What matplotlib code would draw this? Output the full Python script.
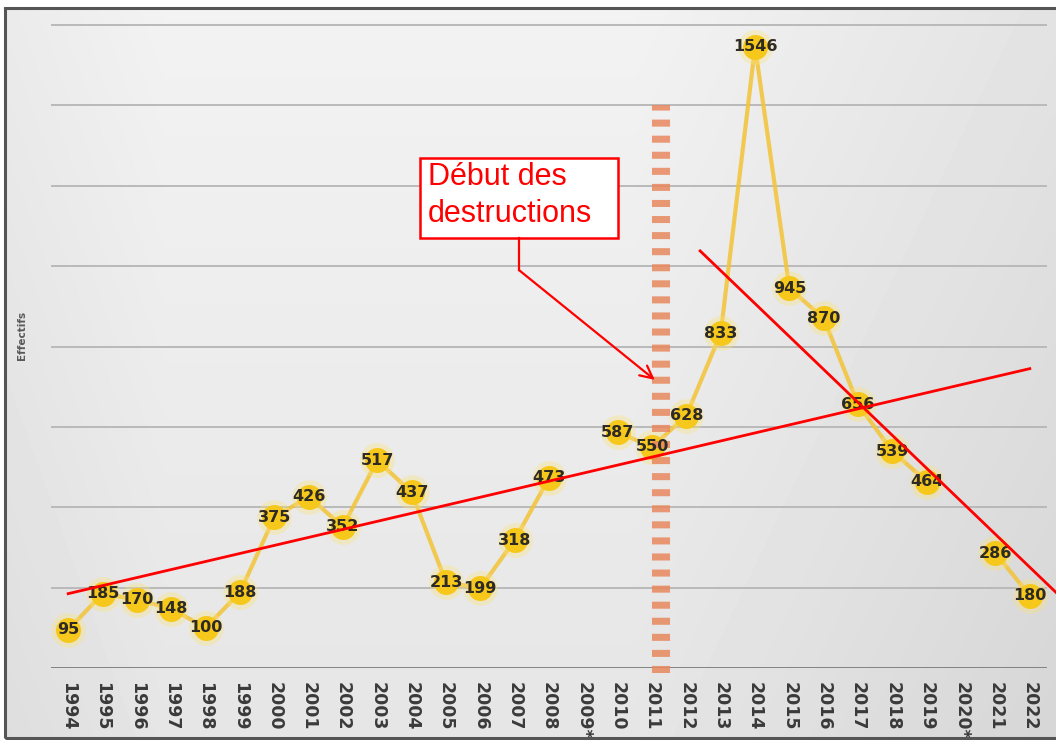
import numpy as np
import matplotlib.pyplot as plt
from matplotlib.patches import Rectangle

years = ["1994", "1995", "1996", "1997", "1998", "1999", "2000", "2001", "2002",
         "2003", "2004", "2005", "2006", "2007", "2008", "2009*", "2010", "2011",
         "2012", "2013", "2014", "2015", "2016", "2017", "2018", "2019", "2020*",
         "2021", "2022"]
effectifs = [95, 185, 170, 148, 100, 188, 375, 426, 352, 517, 437, 213, 199, 318,
             473, np.nan, 587, 550, 628, 833, 1546, 945, 870, 656, 539, 464, np.nan,
             286, 180]

# hand drawn lines on the original chart (x in category index, y in effectifs)
trend_x = [0, 28]
trend_y = [185, 745]
decline_x = [18.4, 28.8]
decline_y = [1038, 185]
destruction_x = 17.27
destruction_y = [-12, 1401]

x = np.arange(len(years))
y = np.array(effectifs, dtype=float)

fig = plt.figure(figsize=(10.56, 7.40), dpi=100)

# grey gradient background inside the frame
bg = fig.add_axes([5 / 1056, 2 / 740, 1 - 5 / 1056, 730 / 740])
gx = np.linspace(0, 1, 200)
gy = np.linspace(0, 1, 150)
GX, GY = np.meshgrid(gx, gy)
shade = 0.95 - 0.05 * GY - 0.06 * np.clip(GX - 0.6, 0, 1) / 0.4 - 0.03 * np.clip(0.15 - GX, 0, 1) / 0.15
bg.imshow(shade, cmap="gray", vmin=0, vmax=1, aspect="auto", extent=[0, 1, 0, 1],
          interpolation="bilinear")
bg.set_axis_off()
fig.patches.append(Rectangle((5 / 1056, 2 / 740), 1.2, 730 / 740, transform=fig.transFigure,
                             fill=False, edgecolor="#555555", linewidth=2.2, zorder=5))

ax = fig.add_axes([51 / 1056, (740 - 668) / 740, 996 / 1056, 659 / 740])
ax.patch.set_alpha(0)
ax.set_xlim(-0.5, 28.5)
ax.set_ylim(0, 1640)

for gv in range(200, 1700, 200):
    ax.axhline(gv, color="#b9b9b9", linewidth=1.4, zorder=1)
ax.axhline(0, color="#7a7a7a", linewidth=2, zorder=1)

for s in ax.spines.values():
    s.set_visible(False)
ax.set_yticks([])
ax.set_xticks(x)
ax.set_xticklabels(years, rotation=270, fontsize=12.5, color="#3a3a3a",
                   fontfamily="Liberation Sans Narrow", fontweight="bold",
                   va="top", ha="center")
ax.tick_params(axis="x", length=0, pad=10)

fig.text(22 / 1056, 1 - 335 / 740, "Effectifs", rotation=90, fontsize=7.5,
         color="#595959", ha="center", va="center", fontweight="bold")

# series
ax.plot(x, y, color="#f3c335", linewidth=3, alpha=0.85, zorder=3)
ax.plot(x, y, "o", markersize=25, color="#fbe27a", alpha=0.35, markeredgewidth=0, zorder=3)
ax.plot(x, y, "o", markersize=18, color="#f7c81c", markeredgewidth=0, zorder=4)
for xi, yi in zip(x, y):
    if not np.isnan(yi):
        ax.text(xi, yi, f"{int(yi)}", ha="center", va="center", fontsize=11.5,
                fontweight="bold", color="#2e2a24", zorder=6,
                fontfamily="Liberation Sans Narrow")

# trend lines
ax.plot(trend_x, trend_y, color="#ff0000", linewidth=2, zorder=7)
ax.plot(decline_x, decline_y, color="#ff0000", linewidth=2, zorder=7, clip_on=False)

# start of destructions
ax.plot([destruction_x, destruction_x], destruction_y, color="#e8885e", alpha=0.85,
        linewidth=13, dashes=(0.39, 0.5), solid_capstyle="butt",
        dash_capstyle="butt", zorder=5, clip_on=False)

ax.add_patch(Rectangle((10.24, 1070), 5.76, 199, facecolor="white",
                       edgecolor="#ff0000", linewidth=1.8, zorder=8))
ax.text(10.47, 1258, "Début des\ndestructions", color="#ff0000", fontsize=22,
        fontfamily="Liberation Sans", ha="left", va="top", linespacing=1.28, zorder=9)
ax.plot([13.13, 13.13], [1070, 990], color="#ff0000", linewidth=1.6, zorder=8)
ax.annotate("", xy=(17.08, 717), xytext=(13.13, 990),
            arrowprops=dict(arrowstyle="->,head_length=0.9,head_width=0.45",
                            color="#ff0000", linewidth=1.6, shrinkA=0, shrinkB=0),
            zorder=8)

fig.savefig("out.png", dpi=100)
